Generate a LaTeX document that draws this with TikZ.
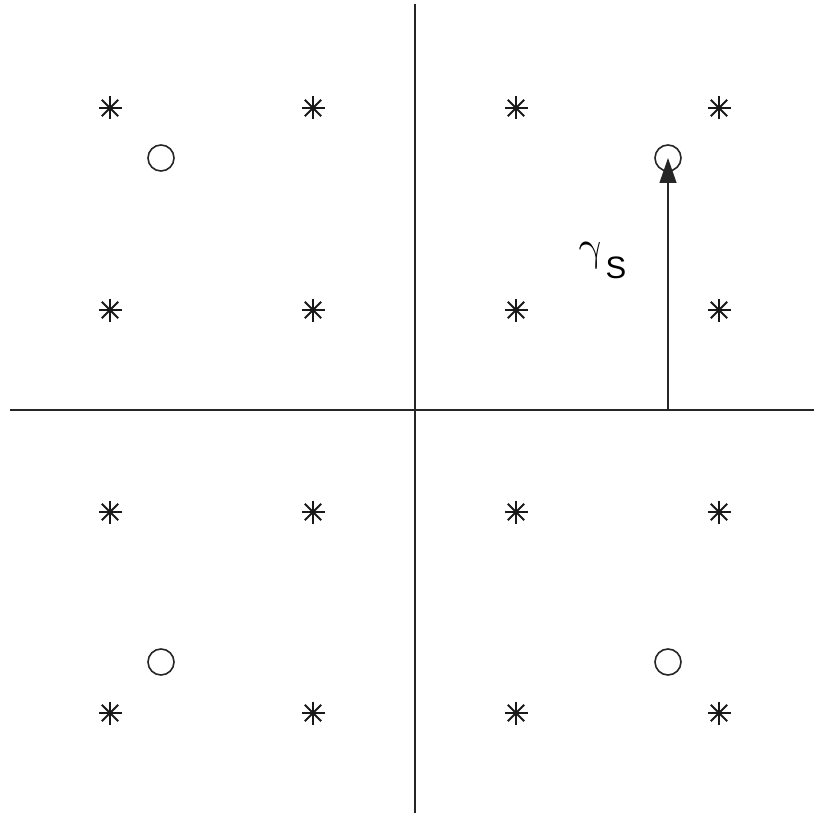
\documentclass[tikz,border=0pt]{standalone}
\usepackage{fontspec}
\setmainfont{Liberation Sans}
\usetikzlibrary{arrows.meta,calc}
\tikzset{
  axis/.style={line width=1.6pt, black!85},
  star/.style={shape=circle, inner sep=0pt, minimum size=28pt,
    path picture={
      \foreach \a in {0,45,90,135}{
        \draw[line width=1.9pt, black!90] ($(path picture bounding box.center)+(\a:11.5pt)$) -- ($(path picture bounding box.center)+(\a+180:11.5pt)$);
      }
    }},
  ring/.style={shape=circle, draw, black!85, line width=1.6pt, inner sep=0pt, minimum size=26pt},
  vec/.style={line width=1.3pt, black!85, -{Triangle[length=25pt,width=17pt]}}
}
\begin{document}
\begin{tikzpicture}[x=1pt,y=-1pt]
\useasboundingbox (0,0) rectangle (814,813);
% axes
\coordinate (vt) at (415,4);
\coordinate (vb) at (415,813);
\coordinate (hl) at (10,410);
\coordinate (hr) at (814,410);
\draw[axis] (vt) -- (vb);
\draw[axis] (hl) -- (hr);
% asterisks
\foreach \i/\x in {1/110,2/313,3/516,4/719}{
  \foreach \j/\y in {1/108,2/310,3/512,4/713}{
    \node[star] (s\i\j) at (\x,\y) {};
  }
}
% circles
\node[ring] (c1) at (161,158) {};
\node[ring] (c2) at (668,158) {};
\node[ring] (c3) at (161,662) {};
\node[ring] (c4) at (668,662) {};
% vector
\coordinate (base) at (668,410);
\draw[vec] (base) -- (c2.center);
\node[inner sep=0pt, xslant=-0.22, scale=4.2, transform shape] (gam) at (592,256) {$\gamma$};
\node[inner sep=0pt, anchor=west] (sub) at ($(gam.east)+(0.5,12)$) {\fontsize{31}{34}\selectfont S};
\end{tikzpicture}
\end{document}
